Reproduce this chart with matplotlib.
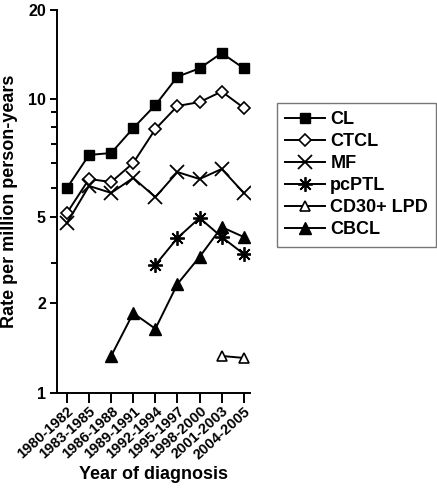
import numpy as np
import matplotlib
matplotlib.use("Agg")
import matplotlib.pyplot as plt
from matplotlib.ticker import FixedLocator, NullFormatter

# ---------------- data ----------------
periods = ["1980-1982", "1983-1985", "1986-1988", "1989-1991", "1992-1994",
           "1995-1997", "1998-2000", "2001-2003", "2004-2005"]
nan = np.nan
cl     = [5.93, 7.20, 7.28, 8.43, 9.65, 11.9, 12.7, 14.3, 12.7]
ctcl   = [5.12, 6.25, 6.14, 6.87, 8.38, 9.60, 9.82, 10.6, 9.49]
mf     = [4.69, 6.00, 5.76, 6.29, 5.62, 6.51, 6.25, 6.63, 5.76]
pcptl  = [nan, nan, nan, nan, 3.00, 4.00, 4.95, 4.04, 3.37]
cd30   = [nan, nan, nan, nan, nan, nan, nan, 1.33, 1.31]
cbcl   = [nan, nan, 1.33, 1.85, 1.64, 2.45, 3.27, 4.49, 4.04]
series_names = ["CL", "CTCL", "MF", "pcPTL", "CD30+ LPD", "CBCL"]

yticks = [1, 2, 5, 10, 20]

# ---------------- axis scale (segmented log axis as in the original) ----------------
_anchor_vals = np.log10([1, 2, 5, 10, 20])
_anchor_pos = np.array([0.0, 90.0, 176.0, 294.0, 383.0])

def _fwd(v):
    v = np.clip(np.asarray(v, dtype=float), 1e-6, None)
    return np.interp(np.log10(v), _anchor_vals, _anchor_pos,
                     left=-1e3, right=1e3)

def _inv(p):
    p = np.asarray(p, dtype=float)
    return 10 ** np.interp(p, _anchor_pos, _anchor_vals)

minor_y = [9.27, 8.48, 7.68, 6.87, 5.93, 3.06]

# ---------------- figure ----------------
plt.rcParams['font.family'] = ['Liberation Sans', 'DejaVu Sans']
plt.rcParams['font.weight'] = 'bold'

fig = plt.figure(figsize=(4.37, 4.95), dpi=100)
ax = fig.add_axes([57 / 437, 1 - 393 / 495, (250 - 57) / 437, (393 - 10) / 495])

x = np.arange(len(periods))
lw = 1.4
styles = [
    dict(marker='s', ms=7, mfc='black', mec='black'),
    dict(marker='D', ms=6.5, mfc='white', mec='black', mew=1.2),
    dict(marker='x', ms=9.5, mec='black', mew=1.3),
    dict(marker=(8, 2, 0), ms=10.5, mec='black', mew=1.3),
    dict(marker='^', ms=7.5, mfc='white', mec='black', mew=1.2),
    dict(marker='^', ms=8.5, mfc='black', mec='black'),
]
for vals, name, st in zip([cl, ctcl, mf, pcptl, cd30, cbcl], series_names, styles):
    ax.plot(x, vals, color='black', lw=lw, label=name, **st)

ax.set_yscale('function', functions=(_fwd, _inv))
ax.set_ylim(1, 20)
ax.set_xlim(-0.45, 8.28)

ax.yaxis.set_major_locator(FixedLocator(yticks))
ax.set_yticklabels([str(t) for t in yticks])
ax.yaxis.set_minor_locator(FixedLocator(minor_y))
ax.yaxis.set_minor_formatter(NullFormatter())

ax.set_xticks(x)
ax.set_xticklabels(periods, rotation=42, ha='right', va='top',
                   rotation_mode='anchor', fontsize=10.5, fontweight='bold')

for s in ['top', 'right']:
    ax.spines[s].set_visible(False)
for s in ['left', 'bottom']:
    ax.spines[s].set_linewidth(1.4)

ax.tick_params(axis='y', which='major', length=5, width=1.4, labelsize=11.5, pad=3)
ax.tick_params(axis='y', which='minor', length=4, width=1.4)
ax.tick_params(axis='x', which='major', length=7, width=1.4, pad=1)

ax.set_ylabel("Rate per million person-years", fontsize=13, fontweight='bold', labelpad=7)
ax.set_xlabel("Year of diagnosis", fontsize=13, fontweight='bold', labelpad=3)

leg = ax.legend(loc='upper left', bbox_to_anchor=(277 / 437, 1 - 103 / 495),
                bbox_transform=fig.transFigure, frameon=True, fancybox=False,
                prop=dict(size=13, weight='bold'), handlelength=2.2,
                labelspacing=0.28, borderpad=0.45, handletextpad=0.3,
                borderaxespad=0)
leg.get_frame().set_edgecolor('#555555')
leg.get_frame().set_linewidth(1.0)

fig.savefig("out.png", dpi=100)
